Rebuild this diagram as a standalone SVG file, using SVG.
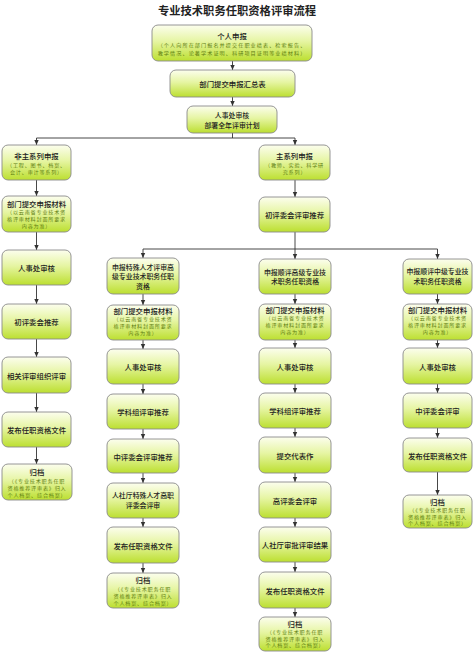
<svg xmlns="http://www.w3.org/2000/svg" width="474" height="653" viewBox="0 0 474 653">
<style>
text{font-family:"Noto Sans CJK SC","Noto Sans",sans-serif;text-anchor:middle;dominant-baseline:central}
.t{font-size:11.3px;font-weight:bold;fill:#222}
.m{font-size:7.4px;fill:#222;font-weight:500}
.m2{font-size:6.9px;fill:#222;font-weight:500}
.s{font-size:5.1px;fill:#5e7d10;letter-spacing:0.8px}
.b{fill:url(#g);stroke:#8a8a8a;stroke-width:0.9}
.c{fill:none;stroke:#333;stroke-width:0.9}
</style>
<defs>
<linearGradient id="g" x1="0" y1="0" x2="0" y2="1">
<stop offset="0" stop-color="#fcfeee"/>
<stop offset="0.45" stop-color="#e6f5a3"/>
<stop offset="1" stop-color="#bcdf30"/>
</linearGradient>
<marker id="a" markerWidth="6" markerHeight="6" refX="5" refY="3" orient="auto" markerUnits="userSpaceOnUse">
<path d="M0,0.8 L5,3 L0,5.2 Z" fill="#333"/>
</marker>
</defs>
<rect width="474" height="653" fill="#fff"/>
<text class="t" x="237" y="10">专业技术职务任职资格评审流程</text>

<g id="connectors">
<line class="c" x1="232.5" y1="61" x2="232.5" y2="70" marker-end="url(#a)"/>
<line class="c" x1="232.5" y1="97" x2="232.5" y2="106" marker-end="url(#a)"/>
<polyline class="c" points="232.5,133 232.5,138"/>
<polyline class="c" points="36.5,138 295,138"/>
<line class="c" x1="36.5" y1="138" x2="36.5" y2="145" marker-end="url(#a)"/>
<line class="c" x1="295" y1="138" x2="295" y2="145" marker-end="url(#a)"/>
<line class="c" x1="36.5" y1="180" x2="36.5" y2="196" marker-end="url(#a)"/>
<line class="c" x1="295" y1="180" x2="295" y2="197" marker-end="url(#a)"/>
<line class="c" x1="36.5" y1="232" x2="36.5" y2="250" marker-end="url(#a)"/>
<line class="c" x1="36.5" y1="285" x2="36.5" y2="304" marker-end="url(#a)"/>
<line class="c" x1="36.5" y1="339" x2="36.5" y2="357" marker-end="url(#a)"/>
<line class="c" x1="36.5" y1="393" x2="36.5" y2="412" marker-end="url(#a)"/>
<line class="c" x1="36.5" y1="447" x2="36.5" y2="464" marker-end="url(#a)"/>
<polyline class="c" points="295,232 295,249"/>
<polyline class="c" points="143,249 437.5,249"/>
<line class="c" x1="143" y1="249" x2="143" y2="258" marker-end="url(#a)"/>
<line class="c" x1="295" y1="249" x2="295" y2="259" marker-end="url(#a)"/>
<line class="c" x1="437.5" y1="249" x2="437.5" y2="259" marker-end="url(#a)"/>
<line class="c" x1="143" y1="294" x2="143" y2="305" marker-end="url(#a)"/>
<line class="c" x1="143" y1="340" x2="143" y2="349" marker-end="url(#a)"/>
<line class="c" x1="143" y1="384" x2="143" y2="394" marker-end="url(#a)"/>
<line class="c" x1="143" y1="429" x2="143" y2="439" marker-end="url(#a)"/>
<line class="c" x1="143" y1="473" x2="143" y2="483" marker-end="url(#a)"/>
<line class="c" x1="143" y1="518" x2="143" y2="527" marker-end="url(#a)"/>
<line class="c" x1="143" y1="563" x2="143" y2="573" marker-end="url(#a)"/>
<line class="c" x1="295" y1="294" x2="295" y2="304" marker-end="url(#a)"/>
<line class="c" x1="295" y1="340" x2="295" y2="348" marker-end="url(#a)"/>
<line class="c" x1="295" y1="384" x2="295" y2="393" marker-end="url(#a)"/>
<line class="c" x1="295" y1="428" x2="295" y2="437" marker-end="url(#a)"/>
<line class="c" x1="295" y1="473" x2="295" y2="482" marker-end="url(#a)"/>
<line class="c" x1="295" y1="518" x2="295" y2="527" marker-end="url(#a)"/>
<line class="c" x1="295" y1="562" x2="295" y2="572" marker-end="url(#a)"/>
<line class="c" x1="295" y1="608" x2="295" y2="617" marker-end="url(#a)"/>
<line class="c" x1="437.5" y1="294" x2="437.5" y2="304" marker-end="url(#a)"/>
<line class="c" x1="437.5" y1="340" x2="437.5" y2="348" marker-end="url(#a)"/>
<line class="c" x1="437.5" y1="384" x2="437.5" y2="393" marker-end="url(#a)"/>
<line class="c" x1="437.5" y1="428" x2="437.5" y2="438" marker-end="url(#a)"/>
<line class="c" x1="437.5" y1="472" x2="437.5" y2="495" marker-end="url(#a)"/>
</g>

<g id="n1"><rect class="b" x="152" y="25" width="160" height="36" rx="6"/>
<text class="m" x="232" y="35">个人申报</text>
<text class="s" x="232" y="44" style="letter-spacing:1.1px">（个人向所在部门报名并提交任职业绩表、检索报告、</text>
<text class="s" x="232" y="52" style="letter-spacing:1.1px">教学情况、论著学术证明、科研项目证明等业绩材料）</text></g>
<g id="n2"><rect class="b" x="170" y="70" width="125" height="27" rx="6"/>
<text class="m" x="232.5" y="83.5">部门提交申报汇总表</text></g>
<g id="n3"><rect class="b" x="187" y="106" width="90" height="27" rx="6"/>
<text class="m2" x="232" y="114.8">人事处审核</text>
<text class="m2" x="232" y="124.6">部署全年评审计划</text></g>

<g id="n4"><rect class="b" x="2" y="145" width="69" height="35" rx="6"/>
<text class="m" x="36.5" y="155">非主系列申报</text>
<text class="s" x="36.5" y="164">（工程、图书、档案、</text>
<text class="s" x="36.5" y="171">会计、审计等系列）</text></g>
<g id="n5"><rect class="b" x="259" y="145" width="71" height="35" rx="6"/>
<text class="m" x="294.5" y="155">主系列申报</text>
<text class="s" x="294.5" y="164">（教师、实验、科学研</text>
<text class="s" x="294.5" y="171">究系列）</text></g>
<g id="n6"><rect class="b" x="2" y="196" width="69" height="36" rx="6"/>
<text class="m" x="36.5" y="203">部门提交申报材料</text>
<text class="s" x="36.5" y="211">（以云南省专业技术资</text>
<text class="s" x="36.5" y="218">格评审材料封面所要求</text>
<text class="s" x="36.5" y="225">内容为准）</text></g>
<g id="n7"><rect class="b" x="259" y="197" width="71" height="35" rx="6"/>
<text class="m" x="294.5" y="214.5">初评委会评审推荐</text></g>

<g id="l1"><rect class="b" x="2" y="250" width="69" height="35" rx="6"/>
<text class="m" x="36.5" y="267.5">人事处审核</text></g>
<g id="l2"><rect class="b" x="2" y="304" width="69" height="35" rx="6"/>
<text class="m" x="36.5" y="321.5">初评委会推荐</text></g>
<g id="l3"><rect class="b" x="2" y="357" width="69" height="36" rx="6"/>
<text class="m" x="36.5" y="375">相关评审组织评审</text></g>
<g id="l4"><rect class="b" x="2" y="412" width="69" height="35" rx="6"/>
<text class="m" x="36.5" y="429.5">发布任职资格文件</text></g>
<g id="l5"><rect class="b" x="2" y="464" width="70" height="36" rx="6"/>
<text class="m" x="37" y="471">归档</text>
<text class="s" x="37" y="480.5">（《专业技术职务任职</text>
<text class="s" x="37" y="487.3">资格推荐评审表》归入</text>
<text class="s" x="37" y="494">个人档案、综合档案）</text></g>

<g id="a1"><rect class="b" x="107" y="258" width="72" height="36" rx="6"/>
<text class="m2" x="143" y="266.8">申报特殊人才评审高</text>
<text class="m2" x="143" y="276.2">级专业技术职务任职</text>
<text class="m2" x="143" y="285.6">资格</text></g>
<g id="a2"><rect class="b" x="107" y="305" width="72" height="35" rx="6"/>
<text class="m" x="143" y="310.5">部门提交申报材料</text>
<text class="s" x="143" y="318">（以云南省专业技术资</text>
<text class="s" x="143" y="325">格评审材料封面所要求</text>
<text class="s" x="143" y="332.3">内容为准）</text></g>
<g id="a3"><rect class="b" x="107" y="349" width="72" height="35" rx="6"/>
<text class="m" x="143" y="366.5">人事处审核</text></g>
<g id="a4"><rect class="b" x="107" y="394" width="72" height="35" rx="6"/>
<text class="m" x="143" y="411.5">学科组评审推荐</text></g>
<g id="a5"><rect class="b" x="107" y="439" width="72" height="34" rx="6"/>
<text class="m" x="143" y="456">中评委会评审推荐</text></g>
<g id="a6"><rect class="b" x="107" y="483" width="72" height="35" rx="6"/>
<text class="m2" x="143" y="495.3">人社厅特殊人才高职</text>
<text class="m2" x="143" y="504.7">评委会评审</text></g>
<g id="a7"><rect class="b" x="107" y="527" width="72" height="36" rx="6"/>
<text class="m" x="143" y="545">发布任职资格文件</text></g>
<g id="a8"><rect class="b" x="107" y="573" width="72" height="35" rx="6"/>
<text class="m" x="143" y="579.5">归档</text>
<text class="s" x="143" y="588">（《专业技术职务任职</text>
<text class="s" x="143" y="595">资格推荐评审表》归入</text>
<text class="s" x="143" y="602">个人档案、综合档案）</text></g>

<g id="b1"><rect class="b" x="259" y="259" width="72" height="35" rx="6"/>
<text class="m2" x="295" y="271.5">申报顺评高级专业技</text>
<text class="m2" x="295" y="280.9">术职务任职资格</text></g>
<g id="b2"><rect class="b" x="259" y="304" width="72" height="36" rx="6"/>
<text class="m" x="295" y="309.5">部门提交申报材料</text>
<text class="s" x="295" y="317">（以云南省专业技术资</text>
<text class="s" x="295" y="324">格评审材料封面所要求</text>
<text class="s" x="295" y="331.3">内容为准）</text></g>
<g id="b3"><rect class="b" x="259" y="348" width="72" height="36" rx="6"/>
<text class="m" x="295" y="366">人事处审核</text></g>
<g id="b4"><rect class="b" x="259" y="393" width="72" height="35" rx="6"/>
<text class="m" x="295" y="410.5">学科组评审推荐</text></g>
<g id="b5"><rect class="b" x="259" y="437" width="72" height="36" rx="6"/>
<text class="m" x="295" y="455">提交代表作</text></g>
<g id="b6"><rect class="b" x="259" y="482" width="72" height="36" rx="6"/>
<text class="m" x="295" y="500">高评委会评审</text></g>
<g id="b7"><rect class="b" x="259" y="527" width="72" height="35" rx="6"/>
<text class="m" x="295" y="544.5">人社厅审批评审结果</text></g>
<g id="b8"><rect class="b" x="259" y="572" width="72" height="36" rx="6"/>
<text class="m" x="295" y="590">发布任职资格文件</text></g>
<g id="b9"><rect class="b" x="259" y="617" width="72" height="34" rx="6"/>
<text class="m" x="295" y="623.3">归档</text>
<text class="s" x="295" y="631.7">（《专业技术职务任职</text>
<text class="s" x="295" y="638.2">资格推荐评审表》归入</text>
<text class="s" x="295" y="644.7">个人档案、综合档案）</text></g>

<g id="c1"><rect class="b" x="403" y="259" width="69" height="35" rx="6"/>
<text class="m2" x="437.5" y="271.3">申报顺评中级专业技</text>
<text class="m2" x="437.5" y="280.7">术职务任职资格</text></g>
<g id="c2"><rect class="b" x="403" y="304" width="69" height="36" rx="6"/>
<text class="m" x="437.5" y="309.5">部门提交申报材料</text>
<text class="s" x="437.5" y="317">（以云南省专业技术资</text>
<text class="s" x="437.5" y="324">格评审材料封面所要求</text>
<text class="s" x="437.5" y="331.3">内容为准）</text></g>
<g id="c3"><rect class="b" x="403" y="348" width="69" height="36" rx="6"/>
<text class="m" x="437.5" y="366">人事处审核</text></g>
<g id="c4"><rect class="b" x="403" y="393" width="69" height="35" rx="6"/>
<text class="m" x="437.5" y="410.5">中评委会评审</text></g>
<g id="c5"><rect class="b" x="403" y="438" width="69" height="34" rx="6"/>
<text class="m" x="437.5" y="455">发布任职资格文件</text></g>
<g id="c6"><rect class="b" x="403" y="495" width="69" height="33" rx="6"/>
<text class="m" x="437.5" y="501">归档</text>
<text class="s" x="437.5" y="509.5">（《专业技术职务任职</text>
<text class="s" x="437.5" y="516">资格推荐评审表》归入</text>
<text class="s" x="437.5" y="522.5">个人档案、综合档案）</text></g>
</svg>
